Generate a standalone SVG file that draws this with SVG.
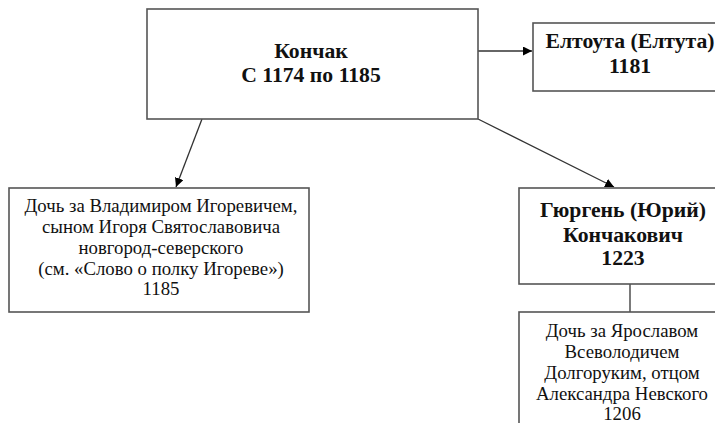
<svg xmlns="http://www.w3.org/2000/svg" width="715" height="423" viewBox="0 0 715 423">
<defs>
<marker id="arr" viewBox="0 0 10 10" refX="10" refY="5" markerWidth="9" markerHeight="9" markerUnits="userSpaceOnUse" orient="auto">
<path d="M0,0 L10,5 L0,10 z" fill="#000"/>
</marker>
<style>
.box{fill:#fff;stroke:#555;stroke-width:1.6}
text{font-family:"Liberation Serif","DejaVu Serif",serif;fill:#111;text-anchor:middle}
.b{font-weight:bold;font-size:21.7px}
.r{font-size:18.8px}
.ln{stroke:#333;stroke-width:1.3;fill:none}
</style>
</defs>
<rect width="715" height="423" fill="#fff"/>
<g id="connectors">
<line class="ln" x1="478" y1="51" x2="532" y2="51" marker-end="url(#arr)"/>
<line class="ln" x1="202" y1="119" x2="176" y2="187" marker-end="url(#arr)"/>
<line class="ln" x1="478" y1="119" x2="614" y2="187" marker-end="url(#arr)"/>
<line class="ln" x1="630" y1="284" x2="630" y2="312"/>
</g>
<g id="konchak">
<rect class="box" x="147" y="9" width="331" height="110"/>
<text class="b" x="311" y="58">Кончак</text>
<text class="b" x="311" y="82">С 1174 по 1185</text>
</g>
<g id="eltouta">
<rect class="box" x="533" y="23" width="195" height="68"/>
<text class="b" x="630" y="48">Елтоута (Елтута)</text>
<text class="b" x="630" y="73">1181</text>
</g>
<g id="daughter1">
<rect class="box" x="9" y="188" width="300" height="124"/>
<text class="r" x="161" y="212">Дочь за Владимиром Игоревичем,</text>
<text class="r" x="161" y="233">сыном Игоря Святославовича</text>
<text class="r" x="161" y="254">новгород-северского</text>
<text class="r" x="161" y="275">(см. «Слово о полку Игореве»)</text>
<text class="r" x="161" y="295">1185</text>
</g>
<g id="gurgen">
<rect class="box" x="519" y="188" width="210" height="96"/>
<text class="b" x="623" y="217">Гюргень (Юрий)</text>
<text class="b" x="623" y="242">Кончакович</text>
<text class="b" x="623" y="265">1223</text>
</g>
<g id="daughter2">
<rect class="box" x="519" y="312" width="210" height="130"/>
<text class="r" x="622" y="337">Дочь за Ярославом</text>
<text class="r" x="622" y="358">Всеволодичем</text>
<text class="r" x="622" y="379">Долгоруким, отцом</text>
<text class="r" x="622" y="400">Александра Невского</text>
<text class="r" x="622" y="420">1206</text>
</g>
</svg>
